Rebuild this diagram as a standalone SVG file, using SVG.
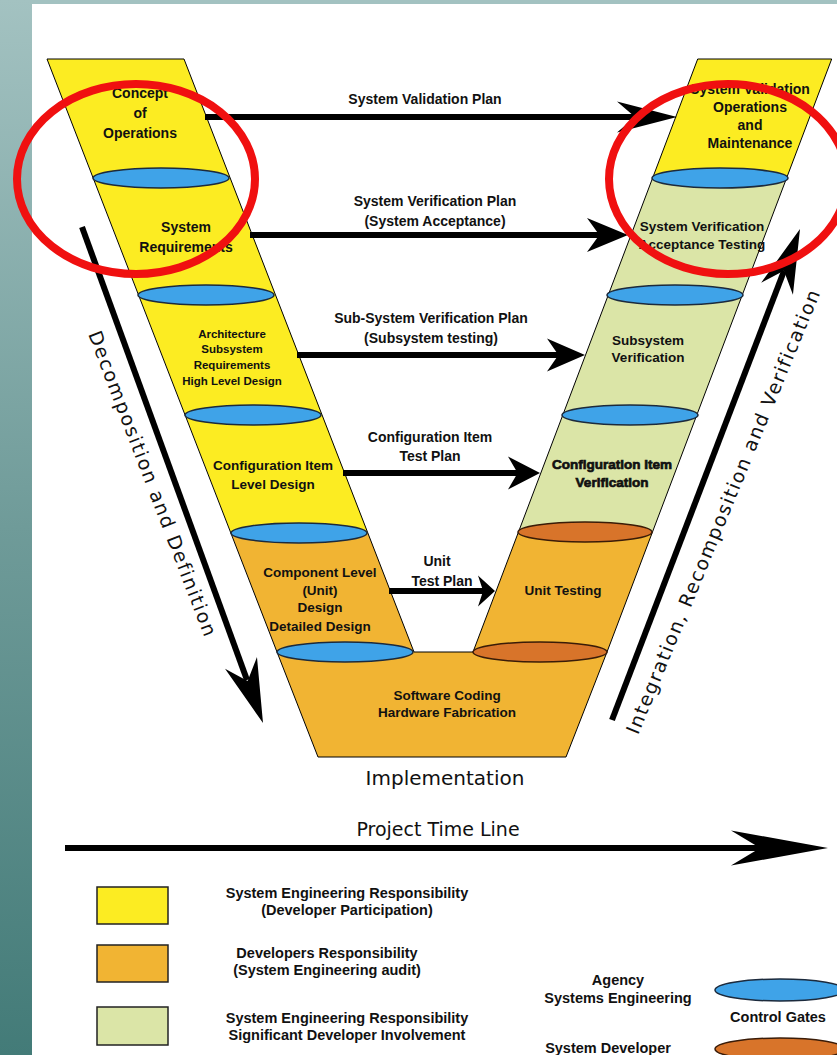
<svg xmlns="http://www.w3.org/2000/svg" width="837" height="1055" viewBox="0 0 837 1055">
<defs>
  <linearGradient id="strip" x1="0" y1="0" x2="0" y2="1">
    <stop offset="0" stop-color="#a3c2c1"/>
    <stop offset="0.5" stop-color="#6f9b99"/>
    <stop offset="1" stop-color="#437b78"/>
  </linearGradient>
  <path id="ah" d="M0,0 L-1,-0.5 L-0.7,0 L-1,0.5 Z"/>
</defs>
<style>
  .y{fill:#fcec22}
  .o{fill:#f1b433}
  .g{fill:#dbe5a7}
  .gateA{fill:#3fa3e8;stroke:#1c2a3c;stroke-width:1.5}
  .gateD{fill:#d8742a;stroke:#3a1c08;stroke-width:1.5}
  .t{font-family:"Liberation Sans",Arial,sans-serif;font-weight:bold;font-size:13.5px;fill:#111;text-anchor:middle}
  .big{font-size:14px}
  .sm{font-size:11.5px}
  .heavy{stroke:#111;stroke-width:0.7}
  .lbl{font-family:"Liberation Sans",Arial,sans-serif;font-weight:bold;font-size:14px;fill:#111;text-anchor:middle}
  .leg{font-family:"Liberation Sans",Arial,sans-serif;font-weight:bold;font-size:14.5px;fill:#111;text-anchor:middle}
  .plain{font-family:"DejaVu Sans",Verdana,sans-serif;fill:#111;text-anchor:middle}
  .diag{font-family:"DejaVu Sans",Verdana,sans-serif;font-size:19px;letter-spacing:1.6px;fill:#111;text-anchor:middle}
  .line{stroke:#000;stroke-width:6;fill:none}
  .head{fill:#000}
  .outline{fill:none;stroke:#000;stroke-width:1}
  .box{stroke:#222;stroke-width:1.5}
  .red{fill:none;stroke:#f01010;stroke-width:8}
</style>

<!-- background -->
<rect x="0" y="0" width="837" height="1055" fill="#ffffff"/>
<rect x="0" y="0" width="837" height="4" fill="#a3c2c1"/>
<rect x="0" y="0" width="32" height="1055" fill="url(#strip)"/>

<!-- left arm segments -->
<g id="concept-of-operations">
  <polygon class="y" points="47,59 184,59 230.2,178 93.2,178"/>
  <text class="t big" x="140" y="98">Concept</text>
  <text class="t big" x="140" y="118">of</text>
  <text class="t big" x="140" y="138">Operations</text>
</g>
<g id="system-requirements">
  <polygon class="y" points="93.2,178 230.2,178 275.6,295 138.6,295"/>
  <text class="t big" x="186" y="232">System</text>
  <text class="t big" x="186" y="252">Requirements</text>
</g>
<g id="high-level-design">
  <polygon class="y" points="138.6,295 275.6,295 322.2,415 185.2,415"/>
  <text class="t sm" x="232" y="338">Architecture</text>
  <text class="t sm" x="232" y="353">Subsystem</text>
  <text class="t sm" x="232" y="369">Requirements</text>
  <text class="t sm" x="232" y="385">High Level Design</text>
</g>
<g id="ci-level-design">
  <polygon class="y" points="185.2,415 322.2,415 367.9,533 230.9,533"/>
  <text class="t" x="273" y="470">Configuration Item</text>
  <text class="t" x="273" y="489">Level Design</text>
</g>
<g id="component-level-design">
  <polygon class="o" points="230.9,533 367.9,533 414,652 277,652"/>
  <text class="t" x="320" y="577">Component Level</text>
  <text class="t" x="320" y="595">(Unit)</text>
  <text class="t" x="320" y="612">Design</text>
  <text class="t" x="320" y="631">Detailed Design</text>
</g>
<g id="implementation">
  <polygon class="o" points="277,652 607,652 566,757 318,757"/>
  <text class="t" x="447" y="700">Software Coding</text>
  <text class="t" x="447" y="717">Hardware Fabrication</text>
  <text class="plain" x="445" y="785" font-size="20">Implementation</text>
</g>
<!-- right arm segments -->
<g id="unit-testing">
  <polygon class="o" points="518.5,532 652.5,532 607,652 473,652"/>
  <text class="t" x="563" y="595">Unit Testing</text>
</g>
<g id="ci-verification">
  <polygon class="g" points="562.8,415 696.8,415 652.5,532 518.5,532"/>
  <text class="t heavy" x="612" y="469">Configuration Item</text>
  <text class="t heavy" x="612" y="487">Verification</text>
</g>
<g id="subsystem-verification">
  <polygon class="g" points="608.3,295 742.3,295 696.8,415 562.8,415"/>
  <text class="t" x="648" y="345">Subsystem</text>
  <text class="t" x="648" y="362">Verification</text>
</g>
<g id="system-verification">
  <polygon class="g" points="652.6,178 786.6,178 742.3,295 608.3,295"/>
  <text class="t" x="702" y="231">System Verification</text>
  <text class="t" x="702" y="249">Acceptance Testing</text>
</g>
<g id="system-validation">
  <polygon class="y" points="697.7,59 831.7,59 786.6,178 652.6,178"/>
  <text class="t big" x="750" y="94">System Validation</text>
  <text class="t big" x="750" y="112">Operations</text>
  <text class="t big" x="750" y="130">and</text>
  <text class="t big" x="750" y="148">Maintenance</text>
</g>

<!-- V outline -->
<g id="v-outline">
  <path class="outline" d="M47,59 L184,59 L414,652 L473,652 L697.7,59 L831.7,59 L607,652 L566,757 L318,757 L277,652 Z"/>
</g>

<!-- control gates -->
<g id="control-gates">
  <ellipse class="gateA" cx="161" cy="178" rx="68" ry="10"/>
  <ellipse class="gateA" cx="206" cy="295" rx="68" ry="10"/>
  <ellipse class="gateA" cx="253" cy="415" rx="68" ry="10"/>
  <ellipse class="gateA" cx="299" cy="533" rx="68" ry="10"/>
  <ellipse class="gateA" cx="345" cy="652" rx="68" ry="10"/>
  <ellipse class="gateA" cx="720" cy="178" rx="68" ry="10"/>
  <ellipse class="gateA" cx="675" cy="295" rx="68" ry="10"/>
  <ellipse class="gateA" cx="630" cy="415" rx="68" ry="10"/>
  <ellipse class="gateD" cx="585" cy="532" rx="67" ry="10"/>
  <ellipse class="gateD" cx="540" cy="652" rx="67" ry="10"/>
</g>

<!-- connectors -->
<g id="connectors">
  <line class="line" x1="205" y1="117" x2="636" y2="117"/>
  <use href="#ah" class="head" transform="translate(677,117) scale(60,31)"/>
  <text class="lbl" x="425" y="104">System Validation Plan</text>

  <line class="line" x1="250" y1="235" x2="600" y2="235"/>
  <use href="#ah" class="head" transform="translate(628,235) scale(41,34)"/>
  <text class="lbl" x="435" y="206">System Verification Plan</text>
  <text class="lbl" x="435" y="226">(System Acceptance)</text>

  <line class="line" x1="297" y1="355" x2="560" y2="355"/>
  <use href="#ah" class="head" transform="translate(585,355) scale(38,33)"/>
  <text class="lbl" x="431" y="323">Sub-System Verification Plan</text>
  <text class="lbl" x="431" y="343">(Subsystem testing)</text>

  <line class="line" x1="343" y1="473" x2="520" y2="473"/>
  <use href="#ah" class="head" transform="translate(540,473) scale(32,33)"/>
  <text class="lbl" x="430" y="442">Configuration Item</text>
  <text class="lbl" x="430" y="461">Test Plan</text>

  <line class="line" x1="389" y1="591" x2="485" y2="591"/>
  <use href="#ah" class="head" transform="translate(495,591) scale(17,31)"/>
  <text class="lbl" x="437" y="566">Unit</text>
  <text class="lbl" x="442" y="586">Test Plan</text>

  <!-- decomposition arrow -->
  <line class="line" x1="82" y1="227" x2="247" y2="680"/>
  <use href="#ah" class="head" transform="translate(263,723) rotate(69.9) scale(64,34)"/>
  <g transform="translate(153,484) rotate(69)">
    <text class="diag" x="0" y="7">Decomposition and Definition</text>
  </g>

  <!-- integration arrow -->
  <line class="line" x1="612" y1="720" x2="784" y2="271"/>
  <use href="#ah" class="head" transform="translate(800,229) rotate(-69) scale(64,34)"/>
  <g transform="translate(723,511) rotate(-67.6)">
    <text class="diag" x="0" y="7">Integration, Recomposition and Verification</text>
  </g>

  <!-- time line -->
  <line class="line" x1="65" y1="848" x2="770" y2="848"/>
  <use href="#ah" class="head" transform="translate(828,848) scale(97,35)"/>
  <text class="plain" x="438" y="836" font-size="19">Project Time Line</text>
</g>

<!-- legend -->
<g id="legend-se">
  <rect class="box y" x="97" y="887" width="71" height="37"/>
  <text class="leg" x="347" y="898">System Engineering Responsibility</text>
  <text class="leg" x="347" y="915">(Developer Participation)</text>
</g>
<g id="legend-dev">
  <rect class="box o" x="97" y="945" width="71" height="37"/>
  <text class="leg" x="327" y="958">Developers Responsibility</text>
  <text class="leg" x="327" y="975">(System Engineering audit)</text>
</g>
<g id="legend-se-dev">
  <rect class="box g" x="97" y="1007" width="71" height="38"/>
  <text class="leg" x="347" y="1023">System Engineering Responsibility</text>
  <text class="leg" x="347" y="1040">Significant Developer Involvement</text>
</g>
<g id="legend-gates">
  <text class="leg" x="618" y="985">Agency</text>
  <text class="leg" x="618" y="1003">Systems Engineering</text>
  <ellipse class="gateA" cx="780" cy="990" rx="65" ry="11"/>
  <text class="leg" x="778" y="1022">Control Gates</text>
  <text class="leg" x="608" y="1053">System Developer</text>
  <ellipse class="gateD" cx="780" cy="1049" rx="65" ry="11"/>
</g>

<!-- highlight circles -->
<g id="highlights">
  <ellipse class="red" cx="136" cy="179" rx="119" ry="95"/>
  <ellipse class="red" cx="728" cy="179" rx="119" ry="95"/>
</g>
</svg>
